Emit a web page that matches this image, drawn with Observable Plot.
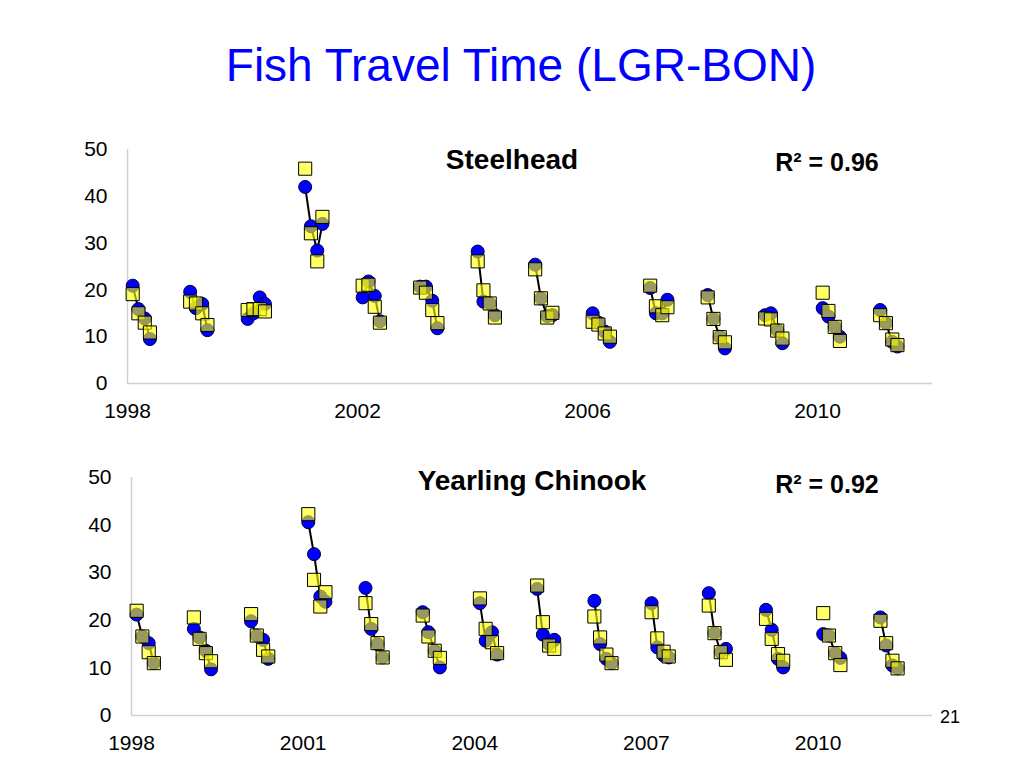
<!DOCTYPE html>
<html>
<head>
<meta charset="utf-8">
<script src="https://cdn.jsdelivr.net/npm/d3@7"></script>
<script src="https://cdn.jsdelivr.net/npm/@observablehq/plot@0.6"></script>
<style>
  html, body { margin: 0; padding: 0; background: #fff; }
  #page { position: relative; width: 1024px; height: 768px; overflow: hidden; font-family: "Liberation Sans", Arial, sans-serif; }
  .abs { position: absolute; line-height: 1; white-space: nowrap; transform: translate(-50%, -50%); }
  .panel { position: absolute; left: 0; }
  .ptitle { font-weight: bold; font-size: 28px; color: #000; }
  .r2 { font-weight: bold; font-size: 25px; color: #000; }
</style>
</head>
<body>
<div id="page">
  <div class="abs" id="title" style="left:521px; top:65px; font-size:46px; color:#0000ff;">Fish Travel Time (LGR-BON)</div>
  <div class="panel" id="top" style="top:120px;"></div>
  <div class="panel" id="bottom" style="top:450px;"></div>
  <div class="abs ptitle" style="left:512px; top:160px;">Steelhead</div>
  <div class="abs r2" style="left:827px; top:162px;">R² = 0.96</div>
  <div class="abs ptitle" style="left:532px; top:481px;">Yearling Chinook</div>
  <div class="abs r2" style="left:827px; top:484px;">R² = 0.92</div>
  <div class="abs" style="left:950px; top:717px; font-size:18px; color:#000;">21</div>
</div>
<script>
// Years and the four in-season periods (fraction of year)
const years = [1998, 1999, 2000, 2001, 2002, 2003, 2004, 2005, 2006, 2007, 2008, 2009, 2010, 2011];
const periodOffset = [0.09, 0.19, 0.30, 0.39];

// Steelhead: observed (blue circles) and predicted (yellow squares), 4 periods per year
const steelheadObserved = [
  20.9, 15.9, 13.9, 9.5,
  19.6, 16.1, 17.0, 11.4,
  13.8, 15.0, 18.4, 17.0,
  42.0, 33.6, 28.4, 34.1,
  18.4, 21.8, 18.7, 13.3,
  20.7, 20.7, 17.7, 11.8,
  28.2, 17.5, 17.1, 14.6,
  25.4, 18.2, 14.4, 14.6,
  15.0, 13.0, 11.1, 8.9,
  20.4, 15.0, 15.0, 17.9,
  18.9, 13.8, 10.0, 7.5,
  14.6, 15.0, 11.4, 8.6,
  16.1, 14.3, 12.1, 10.0,
  15.7, 12.9, 8.9, 7.9
];
const steelheadPredicted = [
  19.1, 15.0, 13.0, 10.9,
  17.5, 17.1, 15.0, 12.5,
  15.7, 15.9, 15.9, 15.4,
  45.9, 32.1, 26.1, 35.6,
  20.9, 21.1, 16.4, 13.0,
  20.5, 19.4, 15.7, 12.9,
  26.1, 19.9, 17.1, 14.1,
  24.4, 18.2, 14.1, 15.1,
  13.2, 12.6, 10.7, 10.0,
  20.9, 16.5, 14.6, 16.3,
  18.4, 13.8, 9.9, 8.8,
  13.9, 13.7, 11.3, 9.6,
  19.4, 15.5, 12.1, 9.1,
  14.6, 12.9, 9.4, 8.2
];

// Yearling Chinook
const chinookObserved = [
  21.2, 16.6, 15.2, 11.0,
  18.2, 16.4, 13.6, 9.7,
  19.8, 16.8, 15.9, 11.9,
  40.6, 33.9, 25.0, 23.9,
  26.8, 18.2, 15.0, 12.2,
  21.7, 17.5, 13.6, 10.1,
  23.6, 15.7, 17.5, 12.8,
  26.6, 17.0, 15.0, 15.9,
  24.1, 15.0, 11.9, 11.0,
  23.6, 14.3, 12.6, 12.2,
  25.7, 17.3, 13.3, 14.0,
  22.2, 18.0, 11.9, 10.1,
  17.1, 16.8, 13.1, 12.1,
  20.6, 14.7, 10.5, 9.9
];
const chinookPredicted = [
  22.0, 16.6, 13.3, 11.0,
  20.6, 16.1, 13.1, 11.4,
  21.3, 16.8, 13.8, 12.4,
  42.3, 28.5, 22.9, 25.9,
  23.6, 19.2, 15.2, 12.2,
  21.0, 16.6, 13.6, 12.1,
  24.6, 18.2, 15.4, 13.1,
  27.3, 19.6, 14.7, 14.0,
  20.8, 16.4, 12.8, 11.0,
  21.7, 16.2, 13.4, 12.4,
  23.1, 17.3, 13.3, 11.7,
  20.3, 16.1, 12.9, 11.5,
  21.5, 16.8, 13.1, 10.6,
  19.9, 15.2, 11.5, 9.9
];

const topTicks = [1998, 2002, 2006, 2010];
const bottomTicks = [1998, 2001, 2004, 2007, 2010];
const yTicks = [0, 10, 20, 30, 40, 50];

function buildRows(obs, pred) {
  const rows = [];
  years.forEach((yr, i) => {
    periodOffset.forEach((off, j) => {
      const k = i * 4 + j;
      rows.push({year: yr, x: yr + off, obs: obs[k], pred: pred[k]});
    });
  });
  return rows;
}

function panel(rows, xTicks, mLeft, mTop, mBottom) {
  return Plot.plot({
    width: 1024,
    height: 310,
    marginLeft: mLeft,
    marginRight: 92,
    marginTop: mTop,
    marginBottom: mBottom,
    style: {fontFamily: "'Liberation Sans', Arial, sans-serif", fontSize: "21px", color: "#000", background: "transparent", overflow: "visible"},
    x: {domain: [1998, 2012], ticks: xTicks, tickFormat: d => String(d), tickSize: 0, tickPadding: 20, label: null},
    y: {domain: [0, 50], ticks: yTicks, tickSize: 0, tickPadding: 20, label: null},
    marks: [
      Plot.ruleY([0], {stroke: "#d0d0d0", strokeWidth: 1.5}),
      Plot.ruleX([1998], {stroke: "#d0d0d0", strokeWidth: 1.5}),
      Plot.line(rows, {x: "x", y: "obs", z: "year", stroke: "#000", strokeWidth: 2}),
      Plot.dot(rows, {x: "x", y: "obs", r: 6.5, fill: "#0000ff", stroke: "#00003a", strokeWidth: 1}),
      Plot.dot(rows, {x: "x", y: "pred", symbol: "square", r: 7.4, fill: "#ffff00", fillOpacity: 0.6, stroke: "#000", strokeWidth: 1})
    ]
  });
}

document.getElementById("top").appendChild(panel(buildRows(steelheadObserved, steelheadPredicted), topTicks, 127, 29, 47));
document.getElementById("bottom").appendChild(panel(buildRows(chinookObserved, chinookPredicted), bottomTicks, 131, 27, 45));
</script>
</body>
</html>
